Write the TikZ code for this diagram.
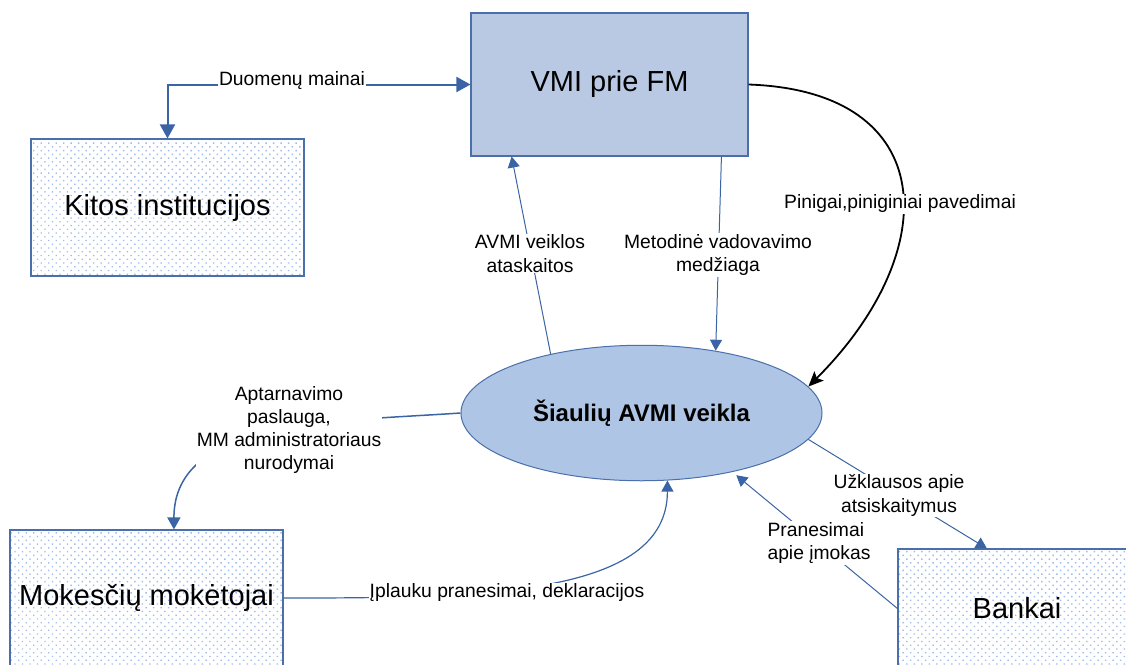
\documentclass[tikz,border=0pt]{standalone}
\usepackage{fontspec}
\setmainfont{Liberation Sans}
\usetikzlibrary{arrows.meta,shapes.geometric,patterns.meta,calc}
\definecolor{boxblue}{RGB}{185,201,228}
\definecolor{ellblue}{RGB}{175,197,229}
\definecolor{edgeblue}{RGB}{74,111,170}
\definecolor{lineblue}{RGB}{58,100,164}
\definecolor{dotblue}{RGB}{160,188,235}
\begin{document}
\begin{tikzpicture}[x=1pt,y=-1pt,
  ent/.style={draw=edgeblue, line width=1.1pt, rectangle, inner sep=0pt, font=\fontsize{29}{34}\selectfont},
  dotbox/.style={ent, pattern={Dots[radius=1pt,distance=5.3pt,angle=45]}, pattern color=dotblue},
  lbl/.style={fill=white, inner sep=1pt, align=center, font=\fontsize{19.3}{23.3}\selectfont},
  flowtip/.style={-{Triangle[length=11pt,width=12pt]}},
  flow/.style={draw=lineblue, line width=1pt, flowtip}
]
\useasboundingbox (0,0) rectangle (1126,664);
\clip (0,0) rectangle (1126,664);

% entities
\node[dotbox, minimum width=273pt, minimum height=137pt] (kitos) at (167.5,207.5) {Kitos institucijos};
\node[ent, fill=boxblue, minimum width=277pt, minimum height=143pt] (vmi) at (609.5,84.5) {VMI prie FM};
\node[dotbox, minimum width=273pt, minimum height=136pt] (mokes) at (146.5,598) {Mokesčių mokėtojai};
\node[dotbox, minimum width=238pt, minimum height=119pt] (bank) at (1017,608.5) {Bankai};
\node[ellipse, draw=edgeblue, line width=1pt, fill=ellblue, minimum width=361pt, minimum height=135.5pt, inner sep=0pt,
      font=\bfseries\fontsize{24}{28}\selectfont] (e) at (641.5,413) {Šiaulių AVMI veikla};

% connectors
\draw[lineblue, line width=2pt, {Triangle[length=14pt,width=15pt]}-{Triangle[length=14pt,width=15pt]}]
  (kitos.north) |- (vmi.west);
\draw[flow] (e.147) -- ($(vmi.south west)!0.148!(vmi.south east)$);
\draw[flow] ($(vmi.south west)!0.9025!(vmi.south east)$) -- (e.40);
\draw[black, line width=1.8pt, -{Stealth[length=15pt,width=13pt,inset=3pt]}]
  (vmi.east) to[out=-2,in=45,looseness=1.6] (e.9);
\draw[lineblue, line width=1.5pt, -{Triangle[length=12pt,width=13pt]}]
  (e.180) .. controls +(-131,9) and +(0,-110) .. ($(mokes.north west)!0.6!(mokes.north east)$);
\draw[lineblue, line width=1.2pt, flowtip]
  (mokes.east) .. controls +(197,0) and +(0,116) .. (e.-69);
\draw[flow] (e.-9.5) -- ($(bank.north west)!0.374!(bank.north east)$);
\draw[flow, shorten >=5pt] (bank.west) -- (e.-33);

% labels
\node[lbl] (lduom) at (292,81) {Duomenų mainai};
\node[lbl] (lavmi) at (530,253.5) {AVMI veiklos\\ataskaitos};
\node[lbl] (lmet) at (718,255) {Metodinė vadovavimo\\medžiaga};
\node[lbl] (lpin) at (900,204) {Pinigai,piniginiai pavedimai};
\node[lbl] (lapt) at (289,430) {Aptarnavimo\\paslauga,\\MM administratoriaus\\nurodymai};
\node[lbl] (lipl) at (507,592.5) {Įplauku pranesimai, deklaracijos};
\node[lbl] (luzk) at (899,495.5) {Užklausos apie\\atsiskaitymus};
\node[lbl, align=left] (lpra) at (819,543) {Pranesimai\\apie įmokas};
\end{tikzpicture}
\end{document}
